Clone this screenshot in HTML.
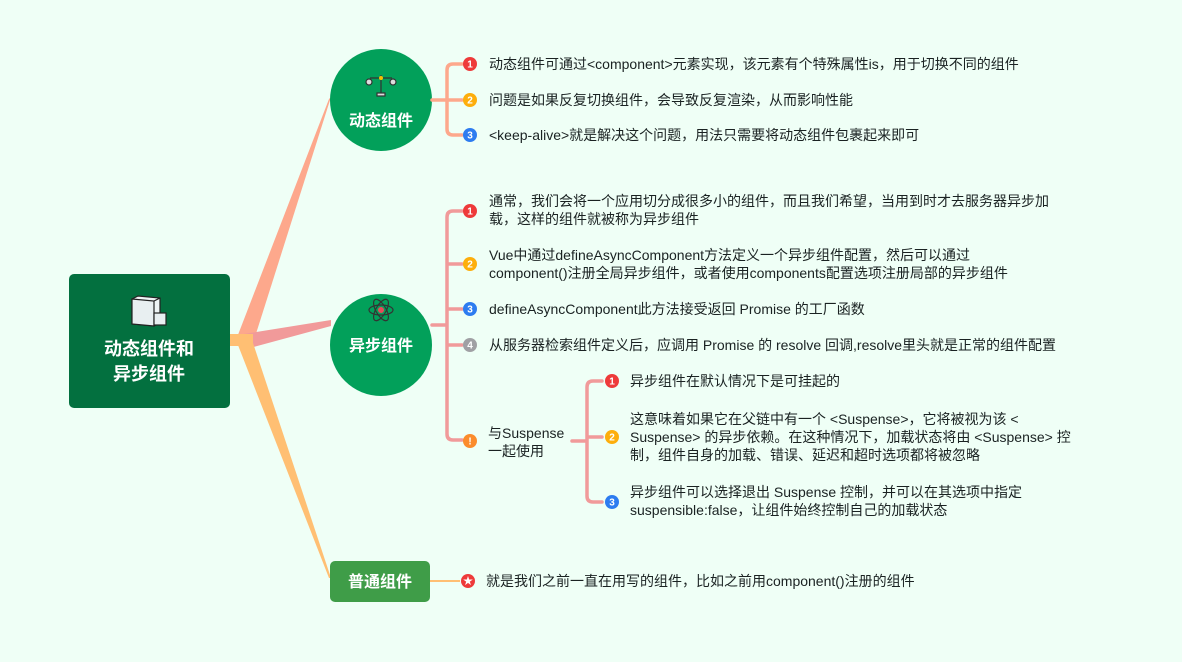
<!DOCTYPE html>
<html><head><meta charset="utf-8"><style>
html,body{margin:0;padding:0;background:#effff6;}
svg{display:block;font-family:"Liberation Sans","Noto Sans CJK SC",sans-serif;}
.t{font-size:14px;fill:#1a2222;}
.w{fill:#fff;font-weight:bold;}
.n{font-size:10px;font-weight:bold;fill:#fff;text-anchor:middle;}
</style></head><body>
<svg width="1182" height="662" viewBox="0 0 1182 662">
<rect width="1182" height="662" fill="#effff6"/>
<!-- main branches -->
<polygon points="236,340 254,340 331,97 329,99" fill="#fda88c"/>
<polygon points="244,334 250,348 331,326 331,320" fill="#f19a9a"/>
<polygon points="236,340 252,340 331,578 329,578" fill="#ffbf73"/>
<rect x="225" y="334" width="28" height="12" fill="#ffbf73"/>
<!-- root -->
<rect x="69" y="274" width="161" height="134" rx="5" fill="#03703f"/>
<g transform="translate(132,296)">
<polygon points="0,3 6,0 28,2 28,27 22,30 0,28" fill="#eef4f5" stroke="#222" stroke-width="1.2"/>
<polygon points="0,3 22,5 22,30 0,28" fill="#e8eff1" stroke="#222" stroke-width="1.2"/>
<polyline points="22,5 28,2" stroke="#222" stroke-width="1.2" fill="none"/>
<rect x="22" y="17" width="12" height="12" fill="#e8eff1" stroke="#222" stroke-width="1.2"/>
</g>
<text x="149" y="355" class="w" font-size="18" text-anchor="middle">动态组件和</text>
<text x="149" y="380" class="w" font-size="18" text-anchor="middle">异步组件</text>
<!-- circles -->
<circle cx="381" cy="100" r="51" fill="#02a05a"/>
<g stroke="#333" stroke-width="1.2" fill="#ddd">
<line x1="381" y1="75" x2="381" y2="94"/><rect x="377" y="93" width="8" height="3"/>
<line x1="370" y1="78" x2="392" y2="78"/>
<circle cx="369" cy="82" r="3"/><circle cx="393" cy="82" r="3"/></g>
<circle cx="381" cy="78" r="2" fill="#f5c000"/>
<text x="381" y="126" class="w" font-size="16" text-anchor="middle">动态组件</text>
<circle cx="381" cy="345" r="51" fill="#02a05a"/>
<g fill="none" stroke="#333" stroke-width="1.2">
<ellipse cx="381" cy="310" rx="12" ry="5"/>
<ellipse cx="381" cy="310" rx="12" ry="5" transform="rotate(60 381 310)"/>
<ellipse cx="381" cy="310" rx="12" ry="5" transform="rotate(-60 381 310)"/></g>
<circle cx="381" cy="310" r="3" fill="#e84a5a"/>
<text x="381" y="351" class="w" font-size="16" text-anchor="middle">异步组件</text>
<rect x="330" y="561" width="100" height="41" rx="5" fill="#3f9d48"/>
<text x="380" y="587" class="w" font-size="16" text-anchor="middle">普通组件</text>
<!-- bracket 1 -->
<g fill="none" stroke="#fda88c" stroke-width="3.5" stroke-linecap="round">
<path d="M432,100 H447 M462,64 H453 Q447,64 447,70 V129 Q447,135 453,135 H462 M447,100 H462"/></g>
<!-- bracket 2 -->
<g fill="none" stroke="#f19a9a" stroke-width="3.5" stroke-linecap="round">
<path d="M432,325 H447 M462,211 H453 Q447,211 447,217 V434 Q447,440 453,440 H462 M447,264 H462 M447,309 H462 M447,345 H462"/>
<path d="M572,441 H587 M602,381 H593 Q587,381 587,387 V496 Q587,502 593,502 H602 M587,437 H602"/></g>
<line x1="430" y1="581" x2="460" y2="581" stroke="#ffbf73" stroke-width="2"/>
<!-- markers -->
<g>
<circle cx="470" cy="64" r="7" fill="#ee3a3a"/><text x="470" y="67.5" class="n">1</text>
<circle cx="470" cy="100" r="7" fill="#fdae0c"/><text x="470" y="103.5" class="n">2</text>
<circle cx="470" cy="135" r="7" fill="#2d7cf0"/><text x="470" y="138.5" class="n">3</text>
<circle cx="470" cy="211" r="7" fill="#ee3a3a"/><text x="470" y="214.5" class="n">1</text>
<circle cx="470" cy="264" r="7" fill="#fdae0c"/><text x="470" y="267.5" class="n">2</text>
<circle cx="470" cy="309" r="7" fill="#2d7cf0"/><text x="470" y="312.5" class="n">3</text>
<circle cx="470" cy="345" r="7" fill="#a0a0a4"/><text x="470" y="348.5" class="n">4</text>
<circle cx="470" cy="441" r="7" fill="#fb8c2c"/><text x="470" y="444.5" class="n">!</text>
<circle cx="612" cy="381" r="7" fill="#ee3a3a"/><text x="612" y="384.5" class="n">1</text>
<circle cx="612" cy="437" r="7" fill="#fdae0c"/><text x="612" y="440.5" class="n">2</text>
<circle cx="612" cy="502" r="7" fill="#2d7cf0"/><text x="612" y="505.5" class="n">3</text>
<circle cx="468" cy="581" r="7" fill="#ee3a3a"/><text x="468" y="584.5" class="n">★</text>
</g>
<!-- texts -->
<g class="t">
<text x="489" y="69">动态组件可通过&lt;component&gt;元素实现，该元素有个特殊属性is，用于切换不同的组件</text>
<text x="489" y="105">问题是如果反复切换组件，会导致反复渲染，从而影响性能</text>
<text x="489" y="140">&lt;keep-alive&gt;就是解决这个问题，用法只需要将动态组件包裹起来即可</text>
<text x="489" y="206">通常，我们会将一个应用切分成很多小的组件，而且我们希望，当用到时才去服务器异步加</text>
<text x="489" y="224">载，这样的组件就被称为异步组件</text>
<text x="489" y="260">Vue中通过defineAsyncComponent方法定义一个异步组件配置，然后可以通过</text>
<text x="489" y="278">component()注册全局异步组件，或者使用components配置选项注册局部的异步组件</text>
<text x="489" y="314">defineAsyncComponent此方法接受返回 Promise 的工厂函数</text>
<text x="489" y="350">从服务器检索组件定义后，应调用 Promise 的 resolve 回调,resolve里头就是正常的组件配置</text>
<text x="488" y="438">与Suspense</text>
<text x="488" y="456">一起使用</text>
<text x="630" y="386">异步组件在默认情况下是可挂起的</text>
<text x="630" y="424">这意味着如果它在父链中有一个 &lt;Suspense&gt;，它将被视为该 &lt;</text>
<text x="630" y="442">Suspense&gt; 的异步依赖。在这种情况下，加载状态将由 &lt;Suspense&gt; 控</text>
<text x="630" y="460">制，组件自身的加载、错误、延迟和超时选项都将被忽略</text>
<text x="630" y="497">异步组件可以选择退出 Suspense 控制，并可以在其选项中指定</text>
<text x="630" y="515">suspensible:false，让组件始终控制自己的加载状态</text>
<text x="486" y="586">就是我们之前一直在用写的组件，比如之前用component()注册的组件</text>
</g>
</svg>
</body></html>
